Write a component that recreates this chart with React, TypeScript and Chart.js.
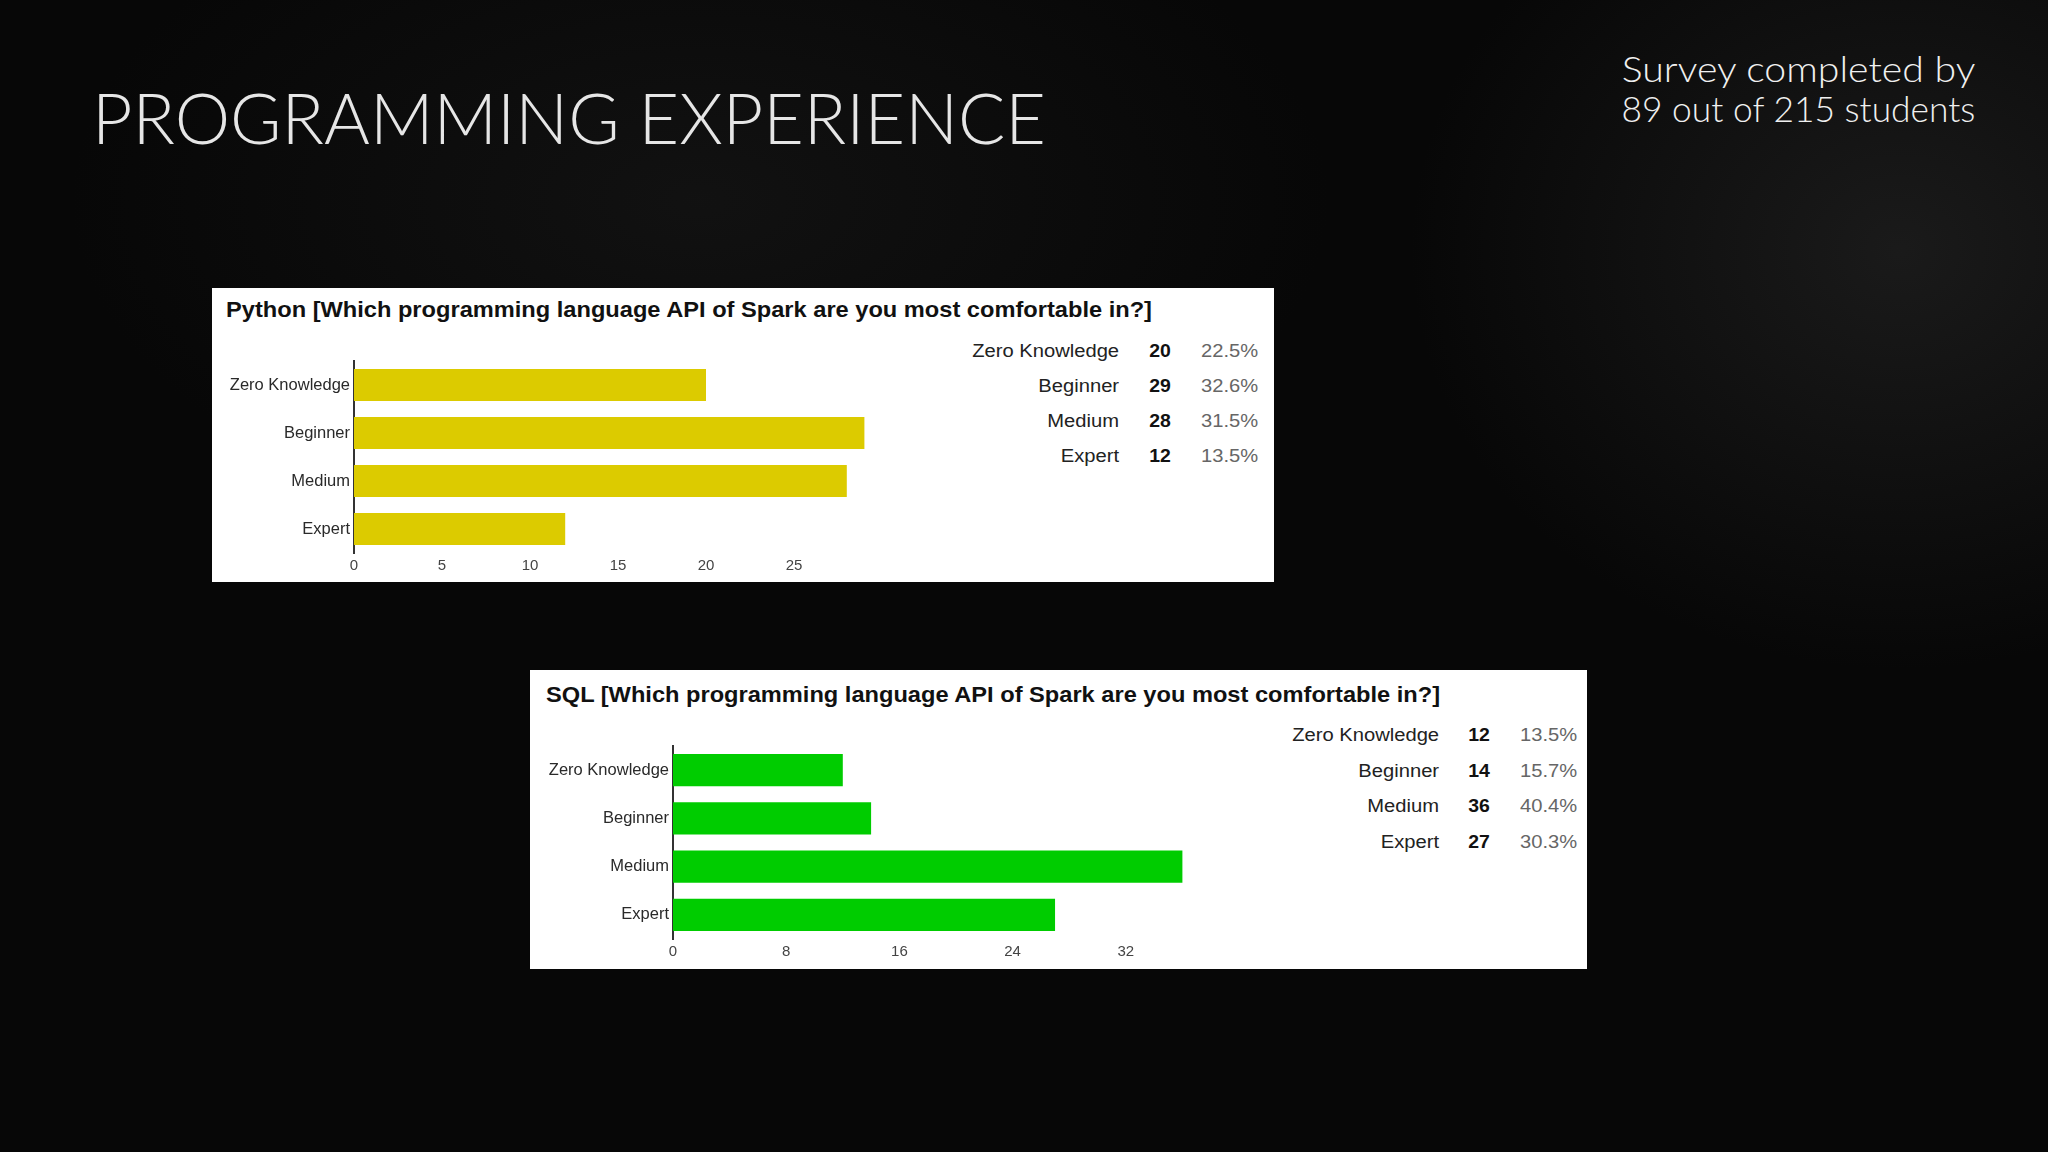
import React, { useEffect, useRef } from "react";
import { Chart, registerables } from "chart.js";

Chart.register(...registerables);

// ---------- data ----------
const categories = ["Zero Knowledge", "Beginner", "Medium", "Expert"];

const pythonCounts = [20, 29, 28, 12];
const pythonPercents = ["22.5%", "32.6%", "31.5%", "13.5%"];
const pythonTicks = [0, 5, 10, 15, 20, 25];
const pythonMax = 30;

const sqlCounts = [12, 14, 36, 27];
const sqlPercents = ["13.5%", "15.7%", "40.4%", "30.3%"];
const sqlTicks = [0, 8, 16, 24, 32];
const sqlMax = 40;

const pageTitle = "PROGRAMMING EXPERIENCE";
const surveyLines = ["Survey completed by", "89 out of 215 students"];

type PanelProps = {
  left: number;
  top: number;
  width: number;
  height: number;
  title: string;
  titleLeft: number;
  titleTop: number;
  counts: number[];
  percents: string[];
  ticks: number[];
  xMax: number;
  color: string;
  canvasLeft: number;
  canvasTop: number;
  canvasW: number;
  canvasH: number;
  yAxisW: number;
  plotW: number;
  xAxisH: number;
  padTop: number;
  labelRight: number;
  valueCenter: number;
  pctLeft: number;
  rowTop: number;
  rowGap: number;
};

function BarPanel(p: PanelProps) {
  const ref = useRef<HTMLCanvasElement | null>(null);

  useEffect(() => {
    if (!ref.current) return;
    const chart = new Chart(ref.current, {
      type: "bar",
      data: {
        labels: categories,
        datasets: [
          {
            data: p.counts,
            backgroundColor: p.color,
            borderWidth: 0,
            barPercentage: 0.67,
            categoryPercentage: 1,
          },
        ],
      },
      options: {
        indexAxis: "y",
        animation: false,
        responsive: false,
        maintainAspectRatio: false,
        layout: {
          padding: {
            top: p.padTop,
            right: p.canvasW - p.yAxisW - p.plotW,
            bottom: 0,
            left: 0,
          },
        },
        plugins: {
          legend: { display: false },
          tooltip: { enabled: false },
          title: { display: false },
        },
        scales: {
          x: {
            type: "linear",
            min: 0,
            max: p.xMax,
            grid: { display: false, drawTicks: false },
            border: { display: false },
            afterBuildTicks: (scale: any) => {
              scale.ticks = p.ticks.map((v) => ({ value: v }));
            },
            afterFit: (scale: any) => {
              scale.height = p.xAxisH;
              scale.paddingLeft = 0;
              scale.paddingRight = 0;
            },
            ticks: {
              color: "#444",
              padding: 4,
              font: { family: "'Liberation Sans', Arial, sans-serif", size: 15 },
              maxRotation: 0,
            },
          },
          y: {
            type: "category",
            grid: { display: false, drawTicks: false },
            border: { display: true, color: "#333", width: 2 },
            afterFit: (scale: any) => {
              scale.width = p.yAxisW;
              scale.paddingTop = 0;
              scale.paddingBottom = 0;
            },
            ticks: {
              color: "#2a2a2a",
              padding: 4,
              font: { family: "'Liberation Sans', Arial, sans-serif", size: 16.5 },
            },
          },
        },
      },
    });
    return () => chart.destroy();
  }, []);

  return (
    <div
      style={{
        position: "absolute",
        left: p.left,
        top: p.top,
        width: p.width,
        height: p.height,
        background: "#ffffff",
        overflow: "hidden",
      }}
    >
      <div
        style={{
          position: "absolute",
          left: p.titleLeft,
          top: p.titleTop,
          whiteSpace: "nowrap",
          fontFamily: "'Liberation Sans', Arial, sans-serif",
          fontWeight: 700,
          fontSize: 22,
          lineHeight: "26px",
          color: "#111",
          transform: "scaleX(1.074)",
          transformOrigin: "left center",
        }}
      >
        {p.title}
      </div>
      <canvas
        ref={ref}
        width={p.canvasW}
        height={p.canvasH}
        style={{
          position: "absolute",
          left: p.canvasLeft,
          top: p.canvasTop,
          width: p.canvasW,
          height: p.canvasH,
        }}
      />
      {categories.map((c, i) => {
        const top = p.rowTop + i * p.rowGap - 12;
        const base: React.CSSProperties = {
          position: "absolute",
          top,
          height: 24,
          lineHeight: "24px",
          fontFamily: "'Liberation Sans', Arial, sans-serif",
          fontSize: 18,
          whiteSpace: "nowrap",
        };
        return (
          <React.Fragment key={c}>
            <div
              style={{
                ...base,
                right: p.width - p.labelRight,
                color: "#222",
                transform: "scaleX(1.12)",
                transformOrigin: "right center",
              }}
            >
              {c}
            </div>
            <div
              style={{
                ...base,
                left: p.valueCenter,
                color: "#111",
                fontWeight: 700,
                transform: "translateX(-50%) scaleX(1.08)",
              }}
            >
              {p.counts[i]}
            </div>
            <div
              style={{
                ...base,
                left: p.pctLeft,
                color: "#666",
                transform: "scaleX(1.12)",
                transformOrigin: "left center",
              }}
            >
              {p.percents[i]}
            </div>
          </React.Fragment>
        );
      })}
    </div>
  );
}

export default function App() {
  return (
    <div
      style={{
        position: "fixed",
        left: 0,
        top: 0,
        width: 2048,
        height: 1152,
        overflow: "hidden",
        background:
          "radial-gradient(ellipse 700px 600px at 1900px 250px, rgba(55,55,55,0.4), rgba(0,0,0,0) 70%), radial-gradient(ellipse 900px 500px at 700px 200px, rgba(30,30,30,0.45), rgba(0,0,0,0) 70%), #070707",
      }}
    >
      <div
        style={{
          position: "absolute",
          left: 92,
          top: 72,
          fontFamily: "Lato, 'Open Sans', sans-serif",
          fontWeight: 300,
          fontSize: 70,
          lineHeight: "90px",
          color: "#e6e6e6",
          whiteSpace: "nowrap",
        }}
      >
        {pageTitle}
      </div>
      <div
        style={{
          position: "absolute",
          right: 2048 - 1975,
          top: 48,
          textAlign: "right",
          fontFamily: "Lato, 'Open Sans', sans-serif",
          fontWeight: 300,
          fontSize: 35,
          lineHeight: "40px",
          color: "#f0f0f0",
          whiteSpace: "nowrap",
        }}
      >
        {surveyLines.map((l, i) => (
          <div
            key={l}
            style={{
              transform: i === 0 ? "scaleX(1.12)" : "scaleX(1.01)",
              transformOrigin: "right center",
            }}
          >
            {l}
          </div>
        ))}
      </div>

      <BarPanel
        left={212}
        top={288}
        width={1062}
        height={294}
        title={"Python [Which programming language API of Spark are you most comfortable in?]"}
        titleLeft={14}
        titleTop={9}
        counts={pythonCounts}
        percents={pythonPercents}
        ticks={pythonTicks}
        xMax={pythonMax}
        color="#dccb00"
        canvasLeft={1}
        canvasTop={68}
        canvasW={700}
        canvasH={226}
        yAxisW={141}
        plotW={528}
        xAxisH={29}
        padTop={5}
        labelRight={907}
        valueCenter={948}
        pctLeft={989}
        rowTop={63}
        rowGap={35}
      />

      <BarPanel
        left={530}
        top={670}
        width={1057}
        height={299}
        title={"SQL [Which programming language API of Spark are you most comfortable in?]"}
        titleLeft={16}
        titleTop={12}
        counts={sqlCounts}
        percents={sqlPercents}
        ticks={sqlTicks}
        xMax={sqlMax}
        color="#00cc00"
        canvasLeft={1}
        canvasTop={71}
        canvasW={738}
        canvasH={228}
        yAxisW={142}
        plotW={566}
        xAxisH={30}
        padTop={5}
        labelRight={909}
        valueCenter={949}
        pctLeft={990}
        rowTop={65}
        rowGap={35.5}
      />
    </div>
  );
}
